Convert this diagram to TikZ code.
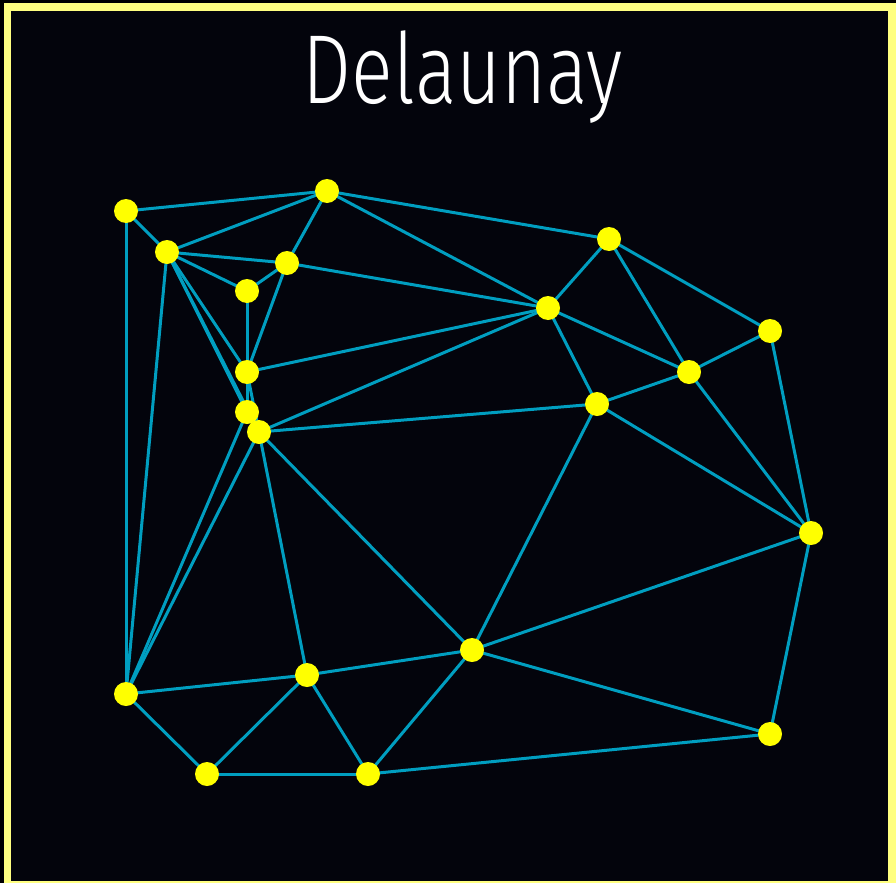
\documentclass[tikz,border=0pt]{standalone}
\usepackage{fontspec}
\newfontfamily\titlefont{Fira Sans Light}
\definecolor{bgdark}{RGB}{3,4,12}
\definecolor{frameyel}{RGB}{255,255,128}
\definecolor{edgeteal}{RGB}{0,158,192}
\definecolor{ptyel}{RGB}{255,255,0}
\tikzset{
  pt/.style={circle, fill=ptyel, draw=none, minimum size=24pt, inner sep=0pt},
  edge/.style={draw=edgeteal, line width=3pt},
}
\begin{document}
\begin{tikzpicture}[x=1pt,y=-1pt]
\useasboundingbox (0,0) rectangle (896,883);
\fill[black] (0,0) rectangle (896,883);
\fill[frameyel] (3.5,3) rectangle (896,883);
\fill[bgdark] (11,11) rectangle (888,881);
\node[anchor=base, text=white, font=\titlefont\fontsize{98}{104}\selectfont, xscale=0.79, inner sep=0pt] (title) at (463,103) {Delaunay};
% points
\coordinate (A) at (126,211);
\coordinate (B) at (167,252);
\coordinate (C) at (327,191);
\coordinate (D) at (287,263);
\coordinate (E) at (247,291);
\coordinate (F) at (247,372);
\coordinate (G) at (247,412);
\coordinate (H) at (259,432);
\coordinate (I) at (548,308);
\coordinate (J) at (609,239);
\coordinate (K) at (770,331);
\coordinate (L) at (689,372);
\coordinate (M) at (597,404);
\coordinate (N) at (811,533);
\coordinate (O) at (472,650);
\coordinate (P) at (307,675);
\coordinate (Q) at (126,694);
\coordinate (R) at (207,774);
\coordinate (S) at (368,774);
\coordinate (T) at (770,734);
% edges
\foreach \u/\v in {A/C,A/B,A/Q,B/C,B/D,B/E,B/F,B/G,B/H,B/Q,C/D,C/I,C/J,D/E,D/F,D/I,E/F,F/G,F/H,G/H,F/I,H/I,H/M,I/J,I/M,I/L,J/L,J/K,K/L,K/N,L/M,L/N,M/N,M/O,N/O,N/T,O/T,O/H,O/P,O/S,P/H,P/Q,P/R,P/S,Q/R,Q/G,Q/H,R/S,S/T}
  \draw[edge] (\u) -- (\v);
\foreach \p in {A,B,C,D,E,F,G,H,I,J,K,L,M,N,O,P,Q,R,S,T}
  \node[pt] (n\p) at (\p) {};
\end{tikzpicture}
\end{document}
